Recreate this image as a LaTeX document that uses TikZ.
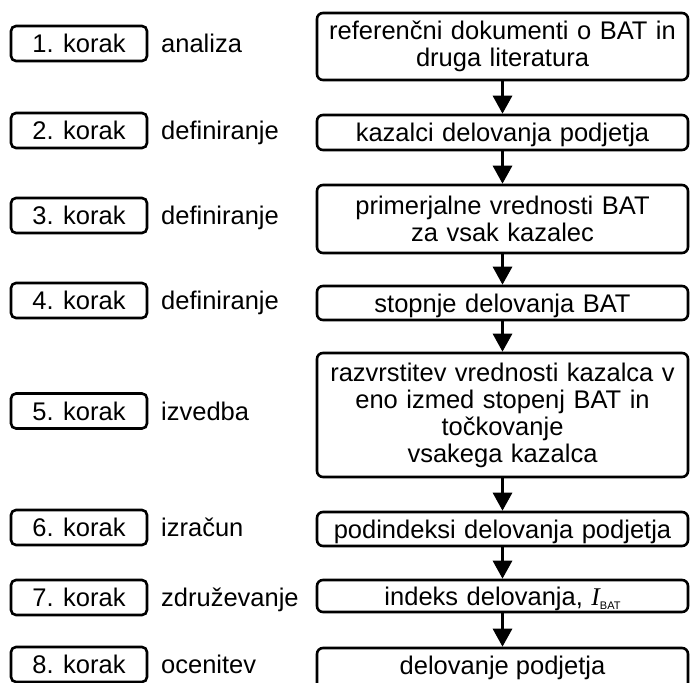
\documentclass[tikz,border=0pt]{standalone}
\usepackage{fontspec}
\setmainfont{Liberation Sans}
\newfontfamily\timesfam{Liberation Serif}
\usetikzlibrary{arrows.meta}
\begin{document}
\begin{tikzpicture}[x=1pt,y=-1pt,
  every node/.style={font=\fontsize{25.5}{27}\selectfont},
  flowbox/.style={draw,line width=2.6pt,rounded corners=6pt,minimum width=371pt,
    inner sep=0pt,align=center,text width=365pt},
  oneline/.style={text height=18.5pt,text depth=0pt},
  stepbox/.style={draw,line width=2.6pt,rounded corners=5pt,minimum width=136pt,
    minimum height=35pt,inner sep=0pt,text height=18.5pt,text depth=0pt},
  phase/.style={anchor=base west,inner sep=0pt},
  caption/.style={anchor=base,inner sep=0pt},
  flow/.style={line width=3pt,-{Triangle[width=19pt,length=18pt]}}]
\useasboundingbox (0,0) rectangle (690,682);
\clip (0,0) rectangle (690,682);

% step labels on the left
\node[stepbox] (s1) at (79,43.5) {1. korak};
\node[stepbox] (s2) at (79,130.5) {2. korak};
\node[stepbox] (s3) at (79,215.5) {3. korak};
\node[stepbox] (s4) at (79,300.5) {4. korak};
\node[stepbox] (s5) at (79,411) {5. korak};
\node[stepbox] (s6) at (79,527.5) {6. korak};
\node[stepbox] (s7) at (79,597.5) {7. korak};
\node[stepbox] (s8) at (79,664.5) {8. korak};

% phase names, on the baselines of the step labels
\node[phase] (p1) at (161,52.5) {analiza};
\node[phase] (p2) at (161,139.5) {definiranje};
\node[phase] (p3) at (161,224.5) {definiranje};
\node[phase] (p4) at (161,309.5) {definiranje};
\node[phase] (p5) at (161,420) {izvedba};
\node[phase] (p6) at (161,536.5) {izračun};
\node[phase] (p7) at (161,606.5) {združevanje};
\node[phase] (p8) at (161,673.5) {ocenitev};

% main flow
\node[flowbox,minimum height=67pt] (b1) at (502.5,46.5) {referenčni dokumenti o BAT in\\druga literatura};
\node[flowbox,oneline,minimum height=35pt] (b2) at (502.5,132.5) {kazalci delovanja podjetja};
\node[flowbox,minimum height=68pt] (b3) at (502.5,219) {primerjalne vrednosti BAT\\za vsak kazalec};
\node[flowbox,oneline,minimum height=34pt] (b4) at (502.5,303) {stopnje delovanja BAT};
\node[flowbox,minimum height=124pt] (b5) at (502.5,415) {razvrstitev vrednosti kazalca v\\eno izmed stopenj BAT in\\točkovanje\\vsakega kazalca};
\node[flowbox,oneline,minimum height=34pt] (b6) at (502.5,529) {podindeksi delovanja podjetja};
\node[flowbox,oneline,minimum height=32pt] (b7) at (502.5,596) {indeks delovanja, {\timesfam\itshape I}\raisebox{-4pt}{\fontsize{11}{11}\selectfont BAT}};
% last box runs past the lower edge
\node[flowbox,minimum height=44pt] (b8) at (502.5,670) {};
\node[caption] (t8) at (502.5,674) {delovanje podjetja};

\draw[flow] (b1) -- (b2);
\draw[flow] (b2) -- (b3);
\draw[flow] (b3) -- (b4);
\draw[flow] (b4) -- (b5);
\draw[flow] (b5) -- (b6);
\draw[flow] (b6) -- (b7);
\draw[flow] (b7) -- (b8);
\end{tikzpicture}
\end{document}
